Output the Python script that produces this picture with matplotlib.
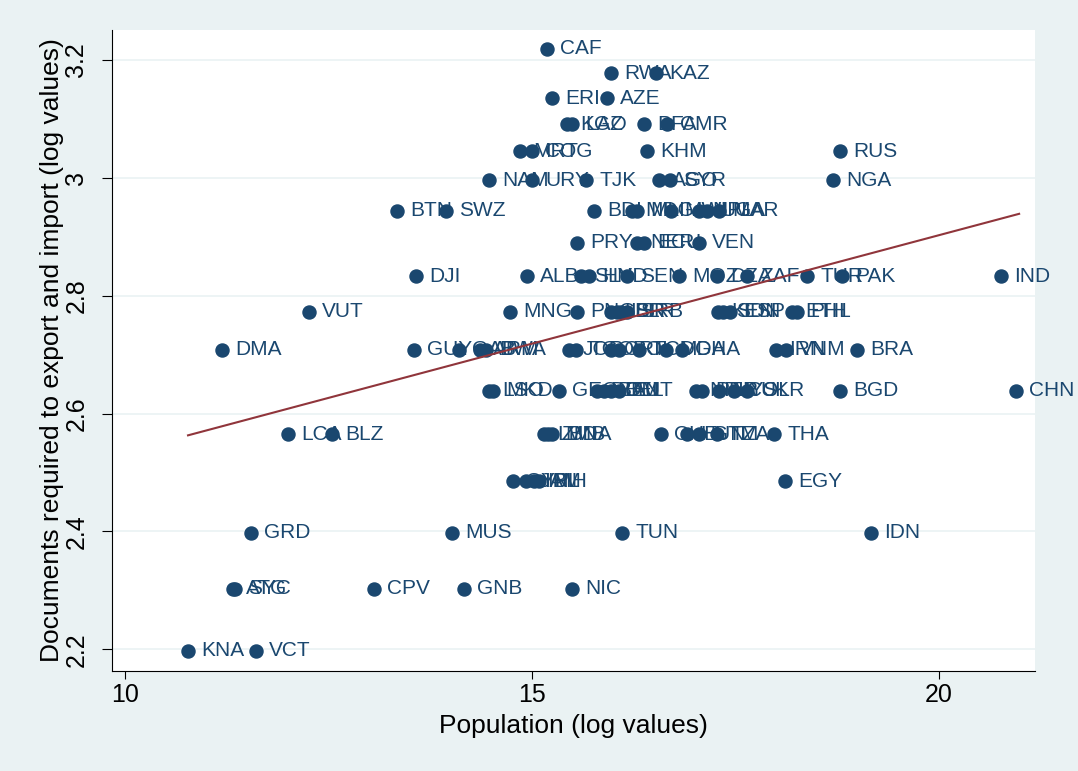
import matplotlib.pyplot as plt

plt.rcParams['font.family'] = ['Liberation Sans', 'DejaVu Sans']

# Country codes with population (log) and documents (log)
codes = [
    "CAF",
    "RWA", "KAZ",
    "ERI", "AZE",
    "KGZ", "LAO", "BFA", "CMR",
    "MRT", "COG", "KHM", "RUS",
    "NAM", "URY", "TJK", "AGO", "SYR", "NGA",
    "BTN", "SWZ", "BDI", "MDG", "MLI", "MWI", "NPL", "UGA", "MAR",
    "PRY", "NER", "ECU", "VEN",
    "DJI", "ALB", "SLV", "HND", "SEN", "MOZ", "DZA", "ZAF", "TUR", "PAK", "IND",
    "VUT", "MNG", "PNG", "LBR", "ISR", "BLR", "SRB", "KEN", "SDN", "ESP", "ETH", "PHL",
    "DMA", "GUY", "GAB", "ARM", "BWA", "JOR", "TGO", "CRI", "BOL", "TCD", "MDA", "GHA",
    "IRN", "VNM", "BRA",
    "LSO", "MKD", "GEO", "DOM", "BEN", "BEL", "AUT", "NPL", "PER", "MYS", "COL", "UKR",
    "BGD", "CHN",
    "LCA", "BLZ", "LBN", "ZMB", "MDA", "CHE", "HUN", "GTM", "TZA", "THA",
    "CYP", "JAM", "IRL", "BIH", "EGY",
    "GRD", "MUS", "TUN", "IDN",
    "ATG", "SYC", "CPV", "GNB", "NIC",
    "KNA", "VCT",
]
log_pop = [
    15.184,
    15.971, 16.523,
    15.246, 15.921,
    15.430, 15.491, 16.376, 16.658,
    14.853, 15.000, 16.413, 18.784,
    14.472, 15.000, 15.663, 16.560, 16.695, 18.698,
    13.342, 13.943, 15.762, 16.229, 16.290, 16.708, 17.052, 17.150, 17.297,
    15.553, 16.290, 16.376, 17.052,
    13.575, 14.939, 15.602, 15.700, 16.167, 16.806, 17.273, 17.641, 18.378, 18.808, 20.762,
    12.260, 14.730, 15.553, 15.971, 16.044, 16.093, 16.167, 17.285, 17.346, 17.432, 18.194, 18.256,
    11.192, 13.550, 14.103, 14.361, 14.435, 15.455, 15.541, 15.971, 16.069, 16.314, 16.646, 16.843,
    17.998, 18.120, 18.993,
    14.472, 14.521, 15.332, 15.799, 15.885, 15.971, 16.069, 17.015, 17.088, 17.297, 17.482, 17.641,
    18.784, 20.946,
    12.002, 12.543, 15.147, 15.197, 15.246, 16.585, 16.904, 17.052, 17.273, 17.973,
    14.767, 14.926, 15.025, 15.086, 18.108,
    11.548, 14.017, 16.105, 19.165,
    11.327, 11.351, 13.059, 14.165, 15.491,
    10.774, 11.609,
]
log_docs = [
    3.219,
    3.178, 3.178,
    3.135, 3.135,
    3.091, 3.091, 3.091, 3.091,
    3.045, 3.045, 3.045, 3.045,
    2.996, 2.996, 2.996, 2.996, 2.996, 2.996,
    2.944, 2.944, 2.944, 2.944, 2.944, 2.944, 2.944, 2.944, 2.944,
    2.890, 2.890, 2.890, 2.890,
    2.833, 2.833, 2.833, 2.833, 2.833, 2.833, 2.833, 2.833, 2.833, 2.833, 2.833,
    2.773, 2.773, 2.773, 2.773, 2.773, 2.773, 2.773, 2.773, 2.773, 2.773, 2.773, 2.773,
    2.708, 2.708, 2.708, 2.708, 2.708, 2.708, 2.708, 2.708, 2.708, 2.708, 2.708, 2.708,
    2.708, 2.708, 2.708,
    2.639, 2.639, 2.639, 2.639, 2.639, 2.639, 2.639, 2.639, 2.639, 2.639, 2.639, 2.639,
    2.639, 2.639,
    2.565, 2.565, 2.565, 2.565, 2.565, 2.565, 2.565, 2.565, 2.565, 2.565,
    2.485, 2.485, 2.485, 2.485, 2.485,
    2.398, 2.398, 2.398, 2.398,
    2.303, 2.303, 2.303, 2.303, 2.303,
    2.197, 2.197,
]

# Linear fit line end points
fit_x = [10.774, 20.985]
fit_y = [2.563, 2.939]

navy = '#1a476f'
maroon = '#90353b'
bg = '#eaf2f3'

fig = plt.figure(figsize=(10.78, 7.71), dpi=100, facecolor=bg)
ax = fig.add_axes([112/1078, 1 - 671/771, (1035 - 112)/1078, (671 - 30)/771])
ax.set_facecolor('white')

ax.set_xlim(9.84, 21.18)
ax.set_ylim(2.163, 3.251)

ax.set_yticks([2.2, 2.4, 2.6, 2.8, 3.0, 3.2])
ax.set_yticklabels(['2.2', '2.4', '2.6', '2.8', '3', '3.2'], rotation=90, va='center')
ax.set_xticks([10, 15, 20])
ax.grid(axis='y', color=bg, linewidth=1.2)
ax.set_axisbelow(True)

for c, xv, yv in zip(codes, log_pop, log_docs):
    ax.plot(xv, yv, 'o', color=navy, markersize=9.4, zorder=3)
    ax.annotate(c, (xv, yv), xytext=(9.5, 0), textcoords='offset points',
                va='center', ha='left', color=navy, fontsize=15, zorder=3)

ax.plot(fit_x, fit_y, color=maroon, linewidth=1.5, zorder=4)

for side in ['top', 'right']:
    ax.spines[side].set_visible(False)
for side in ['left', 'bottom']:
    ax.spines[side].set_color('black')
    ax.spines[side].set_linewidth(0.8)
ax.tick_params(axis='x', labelsize=18, length=6, width=0.8, color='black', pad=3)
ax.tick_params(axis='y', labelsize=18, length=7, width=0.8, color='black', pad=10)

ax.set_xlabel("Population (log values)", fontsize=19, labelpad=5)
ax.set_ylabel("Documents required to export and import (log values)", fontsize=19, labelpad=0.5)

fig.savefig("out.png", dpi=100, facecolor=bg)
